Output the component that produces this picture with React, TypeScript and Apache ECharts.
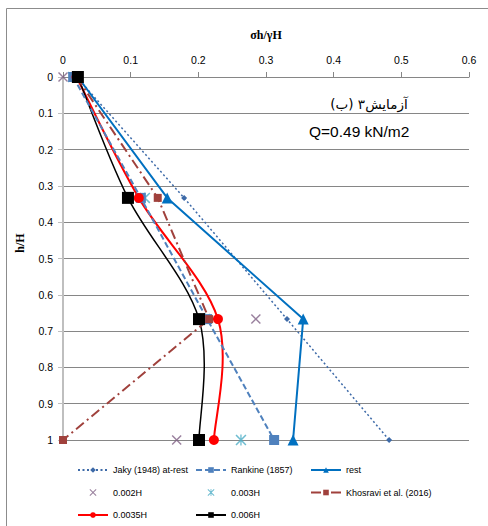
import React, { useEffect, useRef } from "react";
import * as echarts from "echarts";

// depth levels h/H
const hLevels = [0, 0.333, 0.667, 1];
// sigma_h / gamma H values per series (null = no point)
const jaky = [0.02, 0.179, 0.331, 0.482];
const rankine = [0.015, 0.115, 0.213, 0.312];
const rest = [0.022, 0.154, 0.355, 0.34];
const d002 = [0, null, 0.285, 0.168];
const d003 = [0.015, 0.121, 0.21, 0.263];
const khosravi = [0.02, 0.14, 0.216, 0];
const d0035 = [0.02, 0.112, 0.229, 0.223];
const d006 = [0.022, 0.096, 0.201, 0.201];

const xTicks = ["0", "0.1", "0.2", "0.3", "0.4", "0.5", "0.6"];
const yTicks = ["0", "0.1", "0.2", "0.3", "0.4", "0.5", "0.6", "0.7", "0.8", "0.9", "1"];

const seriesNames = [
  "Jaky (1948) at-rest",
  "Rankine (1857)",
  "rest",
  "0.002H",
  "0.003H",
  "Khosravi et al. (2016)",
  "0.0035H",
  "0.006H",
];

const X_PATH =
  "path://M0,1 L1,0 L5,4 L9,0 L10,1 L6,5 L10,9 L9,10 L5,6 L1,10 L0,9 L4,5 Z";
const STAR_PATH =
  "path://M0,1 L1,0 L5,4 L9,0 L10,1 L6,5 L10,9 L9,10 L5,6 L1,10 L0,9 L4,5 Z M4.4,0 L5.6,0 L5.6,10 L4.4,10 Z";

function pts(vals: (number | null)[]) {
  const out: [number, number][] = [];
  vals.forEach((v, i) => {
    if (v !== null) out.push([v, hLevels[i]]);
  });
  return out;
}

const FONT = "'Liberation Sans', Arial, sans-serif";

// Catmull-Rom (Excel-like) smoothed curve drawn through the axes' scales
function smoothCurve(name: string, vals: number[], color: string, width: number) {
  const data = pts(vals);
  return {
    name,
    type: "custom",
    coordinateSystem: "cartesian2d",
    silent: true,
    data,
    encode: { x: 0, y: 1 },
    renderItem: (params: any, api: any) => {
      if (params.dataIndex !== 0) return null;
      const p = data.map((d) => api.coord(d));
      const n = p.length;
      let d = `M${p[0][0]},${p[0][1]}`;
      for (let i = 0; i < n - 1; i++) {
        const p0 = p[Math.max(i - 1, 0)];
        const p1 = p[i];
        const p2 = p[i + 1];
        const p3 = p[Math.min(i + 2, n - 1)];
        const c1x = p1[0] + (p2[0] - p0[0]) / 6;
        const c1y = p1[1] + (p2[1] - p0[1]) / 6;
        const c2x = p2[0] - (p3[0] - p1[0]) / 6;
        const c2y = p2[1] - (p3[1] - p1[1]) / 6;
        d += ` C${c1x},${c1y} ${c2x},${c2y} ${p2[0]},${p2[1]}`;
      }
      return {
        type: "path",
        shape: { pathData: d },
        style: { stroke: color, fill: "none", lineWidth: width },
      };
    },
  };
}

export default function App() {
  const ref = useRef<HTMLDivElement>(null);
  useEffect(() => {
    if (!ref.current) return;
    const chart = echarts.init(ref.current, undefined, { renderer: "svg" });
    const lineBase = (name: string, vals: (number | null)[], color: string, extra: any) => ({
      name,
      type: "line",
      data: pts(vals),
      color,
      showAllSymbol: true,
      ...extra,
    });
    const legendCommon = {
      orient: "vertical",
      itemWidth: 30,
      itemHeight: 7,
      itemGap: 10.5,
      textStyle: { fontFamily: FONT, fontSize: 9, lineHeight: 12, color: "#000" },
      top: 464,
      padding: 0,
    };
    chart.setOption({
      animation: false,
      backgroundColor: "#fff",
      grid: { left: 63, top: 77, right: 19, bottom: 86 },
      xAxis: {
        type: "value",
        position: "top",
        min: 0,
        max: 0.6,
        interval: 0.1,
        name: "σh/γH",
        nameLocation: "middle",
        nameGap: 36,
        nameTextStyle: {
          fontFamily: "'Liberation Serif', serif",
          fontWeight: "bold",
          fontSize: 12,
          color: "#000",
        },
        axisLine: { show: true, lineStyle: { color: "#868686", width: 1 } },
        axisTick: { show: true, length: 5, lineStyle: { color: "#868686" } },
        axisLabel: {
          fontFamily: FONT,
          fontSize: 10.5,
          color: "#000",
          margin: 12,
          formatter: (v: number) => xTicks[Math.round(v * 10)] ?? "",
        },
        splitLine: { show: false },
      },
      yAxis: {
        type: "value",
        inverse: true,
        min: 0,
        max: 1,
        interval: 0.1,
        axisLine: { show: true, lineStyle: { color: "#bfbfbf", width: 2 } },
        axisTick: { show: true, length: 5, lineStyle: { color: "#bfbfbf" } },
        axisLabel: {
          fontFamily: FONT,
          fontSize: 10.5,
          color: "#000",
          margin: 10,
          formatter: (v: number) => yTicks[Math.round(v * 10)] ?? "",
        },
        splitLine: { show: true, lineStyle: { color: "#868686", width: 1 } },
      },
      legend: [
        {
          ...legendCommon,
          left: 77,
          data: [
            seriesNames[0],
            seriesNames[3],
            { name: seriesNames[6], lineStyle: { color: "#ff0000", width: 2, opacity: 1 } },
          ],
        },
        {
          ...legendCommon,
          left: 195,
          data: [
            seriesNames[1],
            seriesNames[4],
            { name: seriesNames[7], lineStyle: { color: "#000000", width: 2, opacity: 1 } },
          ],
        },
        { ...legendCommon, left: 310, data: [seriesNames[2], seriesNames[5]] },
      ],
      graphic: [
        {
          type: "rect",
          silent: true,
          shape: { x: 6.5, y: 8.5, width: 600, height: 700 },
          style: { fill: "none", stroke: "#8c8c8c", lineWidth: 1 },
          z: 100,
        },
        {
          type: "text",
          x: 20,
          y: 243,
          rotation: Math.PI / 2,
          style: {
            text: "h/H",
            font: "bold 12px 'Liberation Serif', serif",
            fill: "#000",
            align: "center",
            verticalAlign: "middle",
          },
          z: 100,
        },
        {
          type: "text",
          x: 369,
          y: 104,
          style: {
            text: "(ب) آزمایش۳",
            font: "13.5px 'DejaVu Sans', sans-serif",
            fill: "#000",
            align: "center",
            verticalAlign: "middle",
          },
          z: 100,
        },
        {
          type: "text",
          x: 309,
          y: 131,
          style: {
            text: "Q=0.49 kN/m2",
            font: "15.5px " + FONT,
            fill: "#000",
            align: "left",
            verticalAlign: "middle",
          },
          z: 100,
        },
      ],
      series: [
        lineBase(seriesNames[0], jaky, "#3d6aa8", {
          symbol: "diamond",
          symbolSize: 6,
          lineStyle: { width: 1.5, type: [2, 2.5], color: "#3d6aa8" },
        }),
        lineBase(seriesNames[1], rankine, "#4f81bd", {
          symbol: "rect",
          symbolSize: 10,
          lineStyle: { width: 2, type: [6, 3], color: "#4f81bd" },
        }),
        lineBase(seriesNames[2], rest, "#0070c0", {
          symbol: "triangle",
          symbolSize: 11,
          lineStyle: { width: 2, type: "solid", color: "#0070c0" },
        }),
        {
          name: seriesNames[3],
          type: "scatter",
          data: pts(d002),
          color: "#7f6084",
          symbol: X_PATH,
          symbolSize: 10,
        },
        {
          name: seriesNames[4],
          type: "scatter",
          data: pts(d003),
          color: "#4bacc6",
          symbol: STAR_PATH,
          symbolSize: 11,
        },
        lineBase(seriesNames[5], khosravi, "#a0413c", {
          symbol: "rect",
          symbolSize: 8,
          lineStyle: { width: 2, type: [10, 4, 2, 4], color: "#a0413c" },
        }),
        smoothCurve("curve 0.0035H", d0035, "#ff0000", 2),
        lineBase(seriesNames[6], d0035, "#ff0000", {
          symbol: "circle",
          symbolSize: 10,
          lineStyle: { width: 2, type: "solid", color: "#ff0000", opacity: 0 },
        }),
        smoothCurve("curve 0.006H", d006, "#000000", 1.5),
        lineBase(seriesNames[7], d006, "#000000", {
          symbol: "rect",
          symbolSize: 12,
          lineStyle: { width: 1.5, type: "solid", color: "#000000", opacity: 0 },
        }),
      ],
    });
    return () => chart.dispose();
  }, []);
  return (
    <div
      ref={ref}
      style={{ position: "absolute", left: 0, top: 0, width: 488, height: 526 }}
    />
  );
}
